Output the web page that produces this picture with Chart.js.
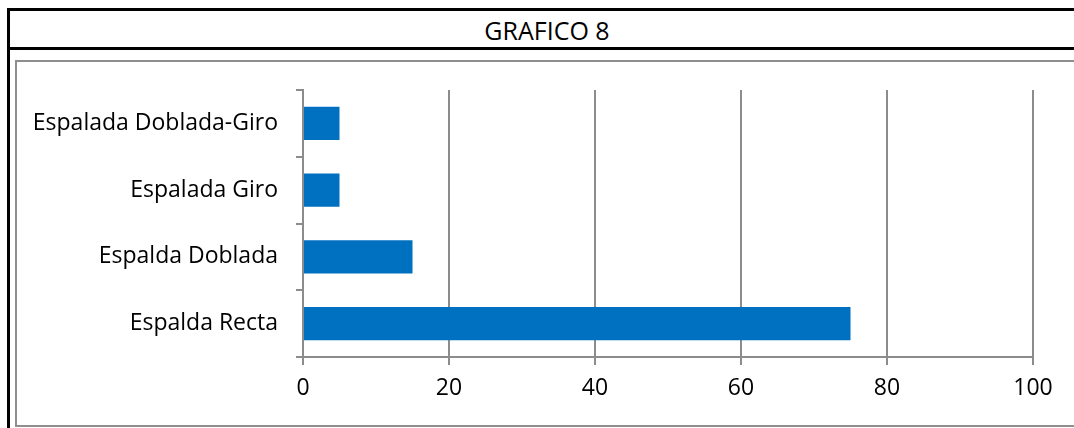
<!DOCTYPE html>
<html>
<head>
<meta charset="utf-8">
<script src="https://cdn.jsdelivr.net/npm/chart.js@4/dist/chart.umd.min.js"></script>
<style>
  html, body { margin: 0; padding: 0; background: #fff; overflow: hidden; }
  body { width: 1074px; height: 428px; position: relative; font-family: "Open Sans", Lato, sans-serif; }
  .frame-top { position: absolute; left: 7px; top: 8px; width: 1067px; height: 3px; background: #000; }
  .frame-sep { position: absolute; left: 7px; top: 47px; width: 1067px; height: 3px; background: #000; }
  .frame-left { position: absolute; left: 7px; top: 8px; width: 3px; height: 420px; background: #000; }
  .title { position: absolute; left: 10px; top: 11px; width: 1074px; height: 36px; line-height: 38px; text-align: center; font-size: 25px; color: #000; }
  .plot-box { position: absolute; left: 15px; top: 60px; width: 1057px; height: 363px;
              border-left: 2px solid #8e8e8e; border-top: 2px solid #8e8e8e; border-bottom: 2px solid #8e8e8e; }
  #wrap { position: absolute; left: 0; top: 0; width: 1074px; height: 428px; }
</style>
</head>
<body>
<div class="frame-top"></div>
<div class="frame-sep"></div>
<div class="frame-left"></div>
<div class="title">GRAFICO 8</div>
<div class="plot-box"></div>
<div id="wrap"><canvas id="grafico"></canvas></div>

<script>
    var categorias = ['Espalada Doblada-Giro', 'Espalada Giro', 'Espalda Doblada', 'Espalda Recta'];
    var valores = [5, 5, 15, 75];
    var ticksX = [0, 20, 40, 60, 80, 100];

    var gris = '#8c8c8c';
    var fuente = { family: '"Open Sans", Lato, sans-serif', size: 23 };

    var ctx = document.getElementById('grafico').getContext('2d');
    var grafico = new Chart(ctx, {
        type: 'bar',
        data: {
            labels: categorias,
            datasets: [{
                label: '',
                data: valores,
                backgroundColor: '#0070c0',
                borderWidth: 0,
                barPercentage: 0.5,
                categoryPercentage: 1
            }]
        },
        options: {
            indexAxis: 'y',
            responsive: true,
            maintainAspectRatio: false,
            animation: false,
            layout: { padding: { left: 0, top: 90, right: 41, bottom: 0 } },
            plugins: {
                legend: { display: false },
                tooltip: { enabled: false }
            },
            scales: {
                x: {
                    min: 0,
                    max: 100,
                    afterBuildTicks: function(scale) {
                        scale.ticks = ticksX.map(function(v) { return { value: v }; });
                    },
                    afterFit: function(scale) { scale.height = 71; },
                    grid: { color: gris, lineWidth: 2, tickLength: 8, drawTicks: true },
                    border: { color: gris, width: 2 },
                    ticks: { color: '#000', font: fuente, padding: 10 }
                },
                y: {
                    afterFit: function(scale) { scale.width = 303; },
                    grid: { color: gris, lineWidth: 2, tickLength: 7, drawOnChartArea: false, offset: true },
                    border: { color: gris, width: 2 },
                    ticks: { color: '#000', font: fuente, padding: 18 }
                }
            }
        }
    });
</script>
</body>
</html>
